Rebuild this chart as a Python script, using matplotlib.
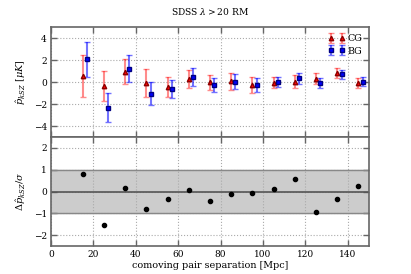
import numpy as np
import matplotlib
matplotlib.use("Agg")
import matplotlib.pyplot as plt

plt.rcParams['font.family'] = ['DejaVu Serif']
plt.rcParams['mathtext.fontset'] = 'dejavuserif'

bins = [15, 25, 35, 45, 55, 65, 75, 85, 95, 105, 115, 125, 135, 145]
cg_val = [0.53, -0.35, 0.95, -0.05, -0.44, 0.29, -0.01, 0.08, -0.26, -0.07, 0.02, 0.29, 0.81, -0.07]
cg_err = [1.9, 1.35, 1.15, 1.27, 0.9, 0.84, 0.68, 0.79, 0.7, 0.5, 0.6, 0.5, 0.43, 0.43]
bg_val = [2.08, -2.32, 1.2, -1.05, -0.65, 0.45, -0.23, 0.05, -0.26, 0.02, 0.35, -0.1, 0.69, 0.02]
bg_err = [1.6, 1.3, 1.23, 1.05, 0.82, 0.8, 0.64, 0.68, 0.67, 0.48, 0.5, 0.48, 0.41, 0.42]
delta = [0.80, -1.55, 0.17, -0.80, -0.33, 0.09, -0.42, -0.11, -0.05, 0.12, 0.56, -0.92, -0.33, 0.27]
bg_shift = 2.0

fig = plt.figure(figsize=(4.11, 2.74), dpi=100)
ax1 = fig.add_axes([0.124, 0.5, 0.774, 0.401])
ax2 = fig.add_axes([0.124, 0.102, 0.774, 0.398], sharex=ax1)

spine_col = '#666666'
for ax in (ax1, ax2):
    for s in ax.spines.values():
        s.set_color(spine_col)
        s.set_linewidth(1.2)
    ax.tick_params(direction='in', top=True, right=True, length=4, width=1.0,
                   color=spine_col, labelsize=6.5, pad=3)
    ax.grid(True, linestyle=':', color='#aaaaaa', linewidth=0.8)
    ax.set_axisbelow(True)

x = np.array(bins, dtype=float)
ax1.errorbar(x, cg_val, yerr=cg_err, fmt='^', color='red', ms=3.2, mec='darkred', mfc='red',
             ecolor=(1, 0, 0, 0.45), elinewidth=1.5, capsize=2, capthick=1, label='CG')
ax1.errorbar(x + bg_shift, bg_val, yerr=bg_err, fmt='s', color='blue', ms=3.2, mec='navy', mfc='blue',
             ecolor=(0, 0, 1, 0.55), elinewidth=1.5, capsize=2, capthick=1, label='BG')
ax1.set_xlim(0, 150)
ax1.set_ylim(-5, 5)
ax1.set_yticks([-4, -2, 0, 2, 4])
ax1.set_xticks([0, 20, 40, 60, 80, 100, 120, 140])
plt.setp(ax1.get_xticklabels(), visible=False)
ax1.set_ylabel(r'$\hat{p}_{kSZ}\ [\mu K]$', fontsize=7)
ax1.set_title(r'SDSS $\lambda > 20$ RM', fontsize=6.6, pad=9)
leg = ax1.legend(loc='upper right', numpoints=2, frameon=False, fontsize=6.8,
                 handlelength=1.8, borderaxespad=0.55, labelspacing=0.35, handletextpad=0.2,
                 borderpad=0.2)

ax2.axhspan(-1, 1, color='#cccccc', zorder=0.5)
ax2.axhline(1, color='#888888', lw=1.0, zorder=0.6)
ax2.axhline(-1, color='#888888', lw=1.0, zorder=0.6)
ax2.axhline(0, color='#555555', lw=1.2, zorder=0.7)
ax2.plot(x, delta, 'o', color='black', ms=3, zorder=3)
ax2.set_ylim(-2.5, 2.5)
ax2.set_yticks([-2, -1, 0, 1, 2])
ax2.set_xlim(0, 150)
ax2.set_xlabel('comoving pair separation [Mpc]', fontsize=6.9, labelpad=1)
ax2.set_ylabel(r'$\Delta\hat{p}_{kSZ}/\sigma$', fontsize=7)

fig.savefig('out.png', dpi=100)
